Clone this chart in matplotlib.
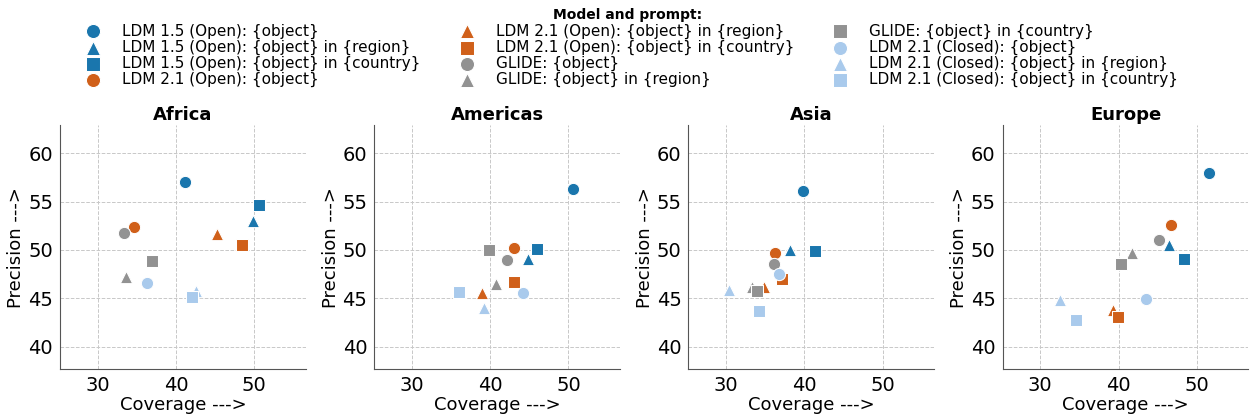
import matplotlib
matplotlib.use("Agg")
import matplotlib.pyplot as plt

regions = ["Africa", "Americas", "Asia", "Europe"]

series = [
    "LDM 1.5 (Open): {object}",
    "LDM 1.5 (Open): {object} in {region}",
    "LDM 1.5 (Open): {object} in {country}",
    "LDM 2.1 (Open): {object}",
    "LDM 2.1 (Open): {object} in {region}",
    "LDM 2.1 (Open): {object} in {country}",
    "GLIDE: {object}",
    "GLIDE: {object} in {region}",
    "GLIDE: {object} in {country}",
    "LDM 2.1 (Closed): {object}",
    "LDM 2.1 (Closed): {object} in {region}",
    "LDM 2.1 (Closed): {object} in {country}",
]

# coverage per region, one value per series (same order as above)
coverage = {
    "Africa":   [41.2, 49.9, 50.6, 34.7, 45.3, 48.5, 33.4, 33.6, 37.0, 36.3, 42.5, 42.1],
    "Americas": [50.6, 44.8, 46.0, 43.1, 39.0, 43.1, 42.1, 40.8, 39.8, 44.2, 39.2, 36.0],
    "Asia":     [39.8, 38.2, 41.4, 36.3, 34.8, 37.2, 36.1, 33.3, 33.9, 36.8, 30.4, 34.2],
    "Europe":   [51.5, 46.4, 48.4, 46.7, 39.3, 39.9, 45.2, 41.7, 40.3, 43.5, 32.5, 34.6],
}
precision = {
    "Africa":   [57.0, 53.0, 54.6, 52.4, 51.7, 50.5, 51.8, 47.2, 48.9, 46.6, 45.8, 45.1],
    "Americas": [56.3, 49.1, 50.1, 50.2, 45.6, 46.7, 49.0, 46.5, 50.0, 45.6, 44.0, 45.7],
    "Asia":     [56.1, 50.0, 49.9, 49.7, 46.2, 47.0, 48.6, 46.2, 45.8, 47.5, 45.9, 43.7],
    "Europe":   [58.0, 50.5, 49.1, 52.6, 43.8, 43.1, 51.0, 49.7, 48.5, 44.9, 44.8, 42.8],
}

model_colors = ["#1a76ad", "#d0601a", "#929292", "#a9caec"]
prompt_markers = ["o", "^", "s"]

fig, axes = plt.subplots(1, 4, figsize=(12.51, 4.17), dpi=100)
fig.subplots_adjust(left=0.048, right=0.998, top=0.700, bottom=0.115, wspace=0.278)

handles = []
for ax, reg in zip(axes, regions):
    for i, name in enumerate(series):
        h = ax.scatter(coverage[reg][i], precision[reg][i],
                       color=model_colors[i // 3], marker=prompt_markers[i % 3],
                       s=78, edgecolors="white", linewidths=0.75, label=name, zorder=3)
        if reg == regions[0]:
            handles.append(h)
    ax.set_title(reg, fontsize=13, fontweight="bold", pad=4)
    ax.set_xlim(25.2, 56.6)
    ax.set_ylim(37.7, 62.9)
    ax.set_xticks([30, 40, 50])
    ax.set_yticks([40, 45, 50, 55, 60])
    ax.tick_params(labelsize=14, length=0, pad=5)
    ax.grid(True, linestyle="--", color="#c8c8c8", linewidth=0.7, zorder=0)
    ax.set_xlabel("Coverage --->", fontsize=13, labelpad=1)
    ax.set_ylabel("Precision --->", fontsize=13, labelpad=2)
    for side in ["top", "right"]:
        ax.spines[side].set_visible(False)
    for side in ["left", "bottom"]:
        ax.spines[side].set_color("#555555")

leg = fig.legend(handles=handles, loc="upper center", bbox_to_anchor=(0.502, 1.0),
                 ncol=3, frameon=False, fontsize=11, title="Model and prompt:",
                 title_fontproperties={"weight": "bold", "size": 10},
                 handletextpad=0.9, columnspacing=2.0, labelspacing=0.07,
                 borderaxespad=0.15, markerscale=1.15)

fig.savefig("out.png", dpi=100)
